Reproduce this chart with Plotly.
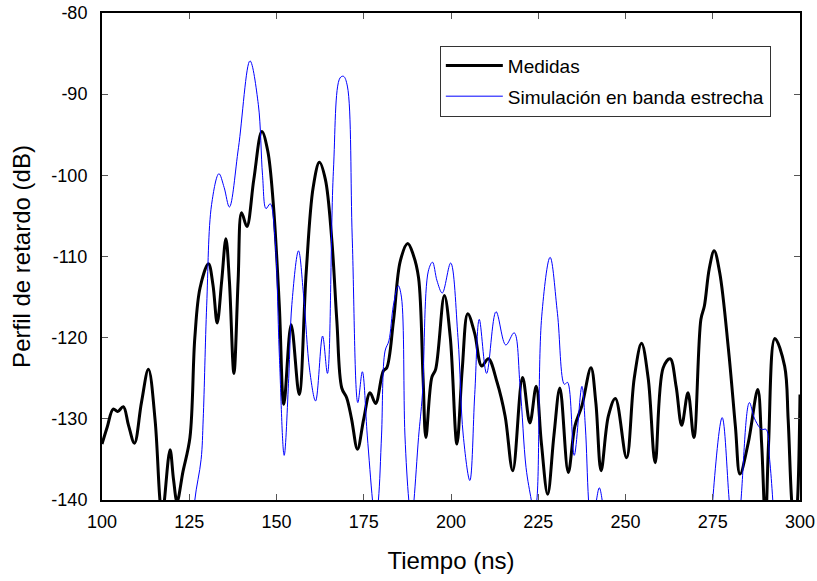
import plotly.graph_objects as go

# Medidas: measured power delay profile (ns, dB)
t_med = [100.0, 101.5, 103.2, 104.5, 106.1, 107.6, 109.3, 111.3, 113.3, 115.2,
         116.6, 117.3, 117.9, 119.5, 120.5, 121.5, 123.2, 125.2, 126.6, 128.1,
         130.5, 131.8, 133.0, 134.3, 135.5, 136.5, 137.8, 139.0, 140.0, 141.5,
         143.5, 145.8, 147.5, 149.1, 150.8, 152.1, 154.2, 156.5, 158.5, 160.5,
         162.3, 164.0, 165.8, 167.3, 168.7, 170.1, 171.5, 173.2, 175.0, 176.8,
         178.4, 180.6, 181.6, 183.5, 185.5, 187.6, 189.2, 190.7, 192.0, 192.8,
         194.5, 195.6, 198.1, 199.8, 201.7, 203.2, 204.8, 206.8, 208.8, 210.7,
         213.2, 215.5, 217.7, 220.5, 222.6, 224.4, 225.9, 227.7, 229.5, 231.2,
         233.6, 235.5, 237.5, 240.1, 241.5, 243.0, 245.1, 247.1, 250.3, 252.5,
         254.6, 256.5, 258.5, 260.8, 262.8, 264.5, 266.1, 267.9, 269.6, 271.6,
         272.6, 274.0, 275.4, 277.0, 279.5, 281.5, 282.8, 285.2, 287.9, 289.0,
         290.1, 291.0, 292.8, 295.6, 296.6, 297.6, 298.5, 299.3, 300.0]
db_med = [-133.1, -131.0, -128.8, -129.1, -128.5, -130.8, -133.0, -128.0, -123.9, -130.1,
          -140.0, -142.5, -140.0, -133.8, -137.5, -140.2, -136.5, -132.3, -120.0, -113.85,
          -110.9, -113.5, -118.2, -113.0, -107.8, -113.0, -124.4, -113.0, -104.6, -106.3,
          -100.5, -94.6, -97.0, -103.6, -116.0, -128.2, -118.4, -127.0, -112.0, -101.5,
          -98.4, -100.5, -107.7, -118.0, -126.2, -127.4, -130.0, -133.75, -130.0, -126.8,
          -128.1, -124.1, -123.7, -118.0, -110.5, -108.4, -109.8, -112.6, -125.0, -132.3,
          -124.9, -123.9, -114.8, -120.0, -133.1, -124.0, -117.05, -119.5, -123.5, -122.6,
          -125.5, -129.65, -136.4, -124.9, -130.5, -126.0, -133.0, -139.3, -132.0, -126.2,
          -136.6, -130.9, -128.4, -123.7, -128.0, -136.4, -129.65, -127.5, -134.8, -125.0,
          -120.7, -125.0, -135.4, -123.7, -122.6, -126.0, -130.8, -126.8, -132.3, -117.75,
          -116.1, -111.5, -109.3, -112.0, -121.45, -131.0, -136.8, -132.9, -126.4, -133.0,
          -143.0, -133.0, -120.1, -123.5, -130.0, -140.0, -144.0, -140.0, -127.0]

# Simulación en banda estrecha: narrowband simulation (ns, dB)
t_sim = [100.0, 115.0, 126.0, 126.6, 128.4, 129.0, 130.0, 131.4, 133.5, 135.0,
         136.5, 139.1, 142.4, 144.8, 146.0, 147.0, 148.2, 149.6, 150.8, 152.2,
         153.5, 154.4, 156.3, 157.8, 159.5, 161.2, 163.2, 164.6, 166.3, 168.2,
         169.2, 170.3, 171.7, 173.3, 174.6, 176.0, 177.5, 178.3, 179.2, 180.1,
         181.1, 182.2, 183.5, 184.9, 185.8, 186.8, 187.9, 188.7, 189.4, 190.7,
         191.8, 193.5, 194.7, 196.0, 197.5, 199.9, 202.0, 203.5, 205.4, 206.8,
         208.1, 210.2, 212.9, 215.7, 218.1, 219.8, 221.5, 223.0, 223.8, 224.6,
         226.0, 228.4, 230.5, 232.5, 233.4, 235.3, 237.5, 238.5, 239.4, 240.5,
         241.7, 242.5, 243.3, 244.5, 260.0, 274.0, 275.0, 277.7, 279.7, 281.5,
         283.1, 285.5, 287.0, 289.0, 290.3, 291.3, 292.2, 293.5, 300.0]
db_sim = [-160.0, -160.0, -145.0, -140.0, -135.0, -130.0, -116.0, -103.6, -99.8, -101.5,
          -103.9, -96.6, -85.9, -91.3, -100.0, -104.1, -103.5, -108.0, -122.0, -134.5,
          -125.0, -115.9, -109.3, -115.0, -124.0, -127.8, -119.8, -124.4, -99.5, -88.0,
          -87.8, -89.0, -107.7, -128.0, -124.2, -132.0, -140.0, -143.0, -140.0, -132.0,
          -121.65, -120.4, -116.0, -113.6, -115.0, -132.0, -140.0, -143.0, -140.0, -132.3,
          -127.0, -111.8, -110.7, -113.0, -114.5, -110.8, -120.0, -132.0, -137.6, -127.0,
          -117.75, -124.4, -116.8, -120.9, -119.4, -126.0, -136.0, -140.0, -142.0, -140.0,
          -117.35, -110.1, -117.0, -125.75, -125.5, -134.5, -126.0, -131.0, -140.0, -146.0,
          -140.0, -138.5, -140.0, -148.0, -160.0, -150.0, -140.0, -129.85, -140.0, -150.0,
          -140.0, -128.0, -130.0, -131.3, -131.3, -135.0, -140.0, -150.0, -160.0]

x_ticks = [100, 125, 150, 175, 200, 225, 250, 275, 300]
y_ticks = [-140, -130, -120, -110, -100, -90, -80]

FONT = "Liberation Sans, Arial, Helvetica, sans-serif"

fig = go.Figure()
fig.add_trace(go.Scatter(
    x=t_med, y=db_med, mode="lines", name="Medidas",
    line=dict(color="black", width=3, shape="spline", smoothing=1.0),
    legendgroup="a",
))
fig.add_trace(go.Scatter(
    x=t_sim, y=db_sim, mode="lines", name="Simulación en banda estrecha",
    line=dict(color="#0000ff", width=1, shape="spline", smoothing=1.0),
    legendgroup="b",
))

axis_common = dict(
    showline=True, linecolor="black", linewidth=2, mirror="ticks",
    ticks="inside", ticklen=6, tickwidth=1, tickcolor="#555555",
    showgrid=False, zeroline=False, automargin=False,
    tickfont=dict(family=FONT, size=18, color="black"),
)

fig.update_xaxes(
    range=[100, 300], tickvals=x_ticks, ticktext=[str(v) for v in x_ticks],
    title=dict(text="Tiempo (ns)", font=dict(family=FONT, size=24, color="black"), standoff=22),
    ticklabelstandoff=4,
    **axis_common,
)
fig.update_yaxes(
    range=[-140, -80], tickvals=y_ticks, ticktext=[str(v) for v in y_ticks],
    title=dict(text="Perfil de retardo (dB)", font=dict(family=FONT, size=24, color="black"), standoff=14),
    ticklabelstandoff=9,
    **axis_common,
)

fig.update_layout(
    template="none",
    width=817, height=581,
    margin=dict(l=102, r=17, t=13, b=81, pad=0),
    plot_bgcolor="white", paper_bgcolor="white",
    font=dict(family=FONT, size=18, color="black"),
    showlegend=True,
    legend=dict(
        x=0.484, y=0.933, xanchor="left", yanchor="top",
        bgcolor="white", bordercolor="#333333", borderwidth=1,
        font=dict(family=FONT, size=19, color="black"),
        tracegroupgap=3, traceorder="grouped", itemwidth=57,
    ),
)

fig.write_html("out.html")
